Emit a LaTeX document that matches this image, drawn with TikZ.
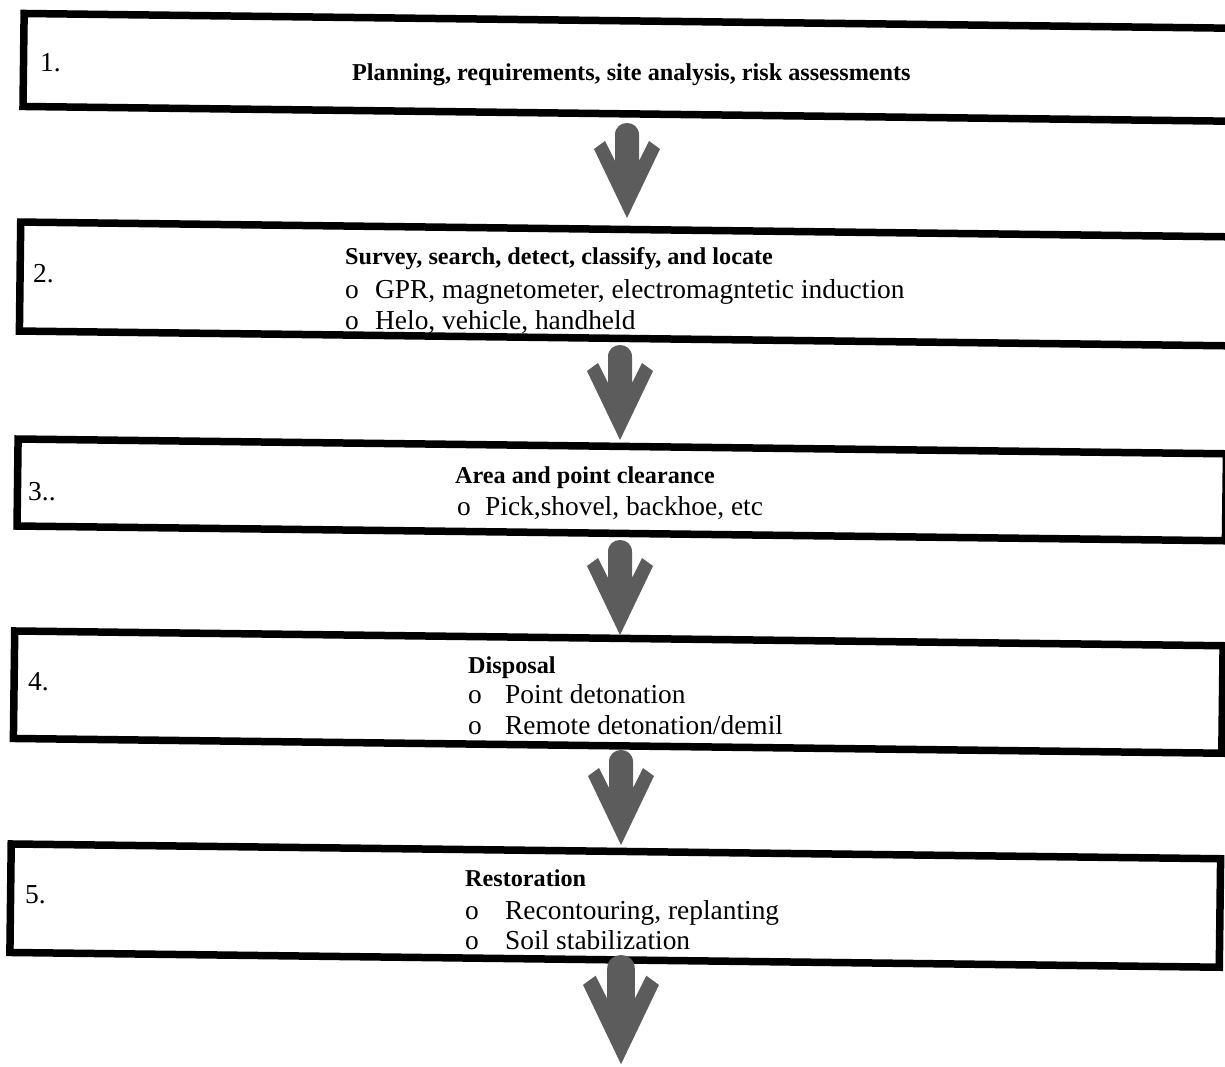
\documentclass[tikz,border=0pt]{standalone}
\usepackage{fontspec}
\setmainfont{Liberation Serif}
\definecolor{arrowgray}{gray}{0.36}
\tikzset{
  x=1pt, y=-1pt,
  stagebox/.style={draw, line width=7.5pt, rectangle, inner sep=0pt, rotate=-0.7},
  txt/.style={anchor=base west, inner sep=0pt},
  numlabel/.style={txt, font={\fontsize{27.4}{30}\selectfont}},
  steptitle/.style={txt, font={\fontsize{24.2}{28}\selectfont\bfseries}},
  stepitem/.style={txt, font={\fontsize{27.4}{30}\selectfont}},
  stagearrow/.pic={
    \fill[arrowgray] (12,38) -- (22,18) -- (33,26) -- (0,95) -- (-33,26) -- (-22,18)
      -- (-12,38) -- (-12,12) .. controls (-12,-4) and (12,-4) .. (12,12) -- cycle;
  }
}
\begin{document}
\begin{tikzpicture}
\useasboundingbox (0,0) rectangle (1225,1067);
\clip (0,0) rectangle (1225,1067);

% stage frames
\node[stagebox, minimum width=1216.5pt, minimum height=93pt]   (b1) at (631.75,67.4) {};
\node[stagebox, minimum width=1220pt,   minimum height=109pt]  (b2) at (630,284.0) {};
\node[stagebox, minimum width=1208.5pt, minimum height=87pt]   (b3) at (621.75,489.9) {};
\node[stagebox, minimum width=1208.5pt, minimum height=107.5pt](b4) at (618.25,692.1) {};
\node[stagebox, minimum width=1209.5pt, minimum height=108.5pt](b5) at (615.25,905.6) {};

% stage 1
\node[numlabel]  (n1) at (40,72) {1.};
\node[steptitle] (t1) at (352,81) {Planning, requirements, site analysis, risk assessments};

% stage 2
\node[numlabel]  (n2) at (33,282) {2.};
\node[steptitle] (t2) at (345,264) {Survey, search, detect, classify, and locate};
\node[stepitem]  (o21) at (345,298) {o};
\node[stepitem]  (i21) at (375,298) {GPR, magnetometer, electromagntetic induction};
\node[stepitem]  (o22) at (345,329) {o};
\node[stepitem]  (i22) at (375,329) {Helo, vehicle, handheld};

% stage 3
\node[numlabel]  (n3) at (28,500) {3..};
\node[steptitle] (t3) at (455,483) {Area and point clearance};
\node[stepitem]  (o31) at (457,515) {o};
\node[stepitem]  (i31) at (485,515) {Pick,shovel, backhoe, etc};

% stage 4
\node[numlabel]  (n4) at (28,690) {4.};
\node[steptitle] (t4) at (468,673) {Disposal};
\node[stepitem]  (o41) at (468,703) {o};
\node[stepitem]  (i41) at (505,703) {Point detonation};
\node[stepitem]  (o42) at (468,734) {o};
\node[stepitem]  (i42) at (505,734) {Remote detonation/demil};

% stage 5
\node[numlabel]  (n5) at (25,903) {5.};
\node[steptitle] (t5) at (465,886) {Restoration};
\node[stepitem]  (o51) at (465,919) {o};
\node[stepitem]  (i51) at (505,919) {Recontouring, replanting};
\node[stepitem]  (o52) at (465,949) {o};
\node[stepitem]  (i52) at (505,949) {Soil stabilization};

% flow arrows between stages
\coordinate (a1) at (627,123);
\coordinate (a2) at (620,345);
\coordinate (a3) at (620,540);
\coordinate (a4) at (621,750);
\coordinate (a5) at (621,955);
\pic at (a1) {stagearrow};
\pic at (a2) {stagearrow};
\pic at (a3) {stagearrow};
\pic at (a4) {stagearrow};
\pic[scale=1.15] at (a5) {stagearrow};
\end{tikzpicture}
\end{document}
